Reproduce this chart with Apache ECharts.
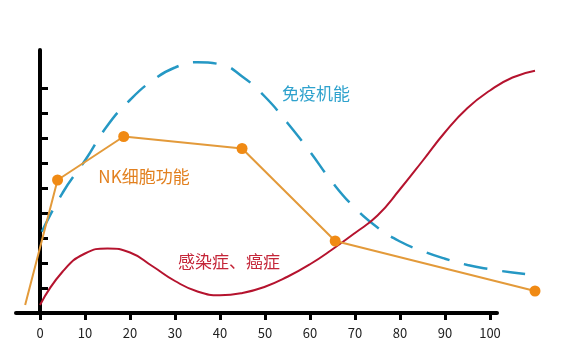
<!DOCTYPE html>
<html>
<head>
<meta charset="utf-8">
<script src="https://cdn.jsdelivr.net/npm/echarts@6/dist/echarts.min.js"></script>
<style>
html,body{margin:0;padding:0;background:#fff;}
#chart{width:581px;height:361px;}
</style>
</head>
<body>
<div id="chart"></div>
<script>
// Tick labels on the x axis
var xTicks = [0, 10, 20, 30, 40, 50, 60, 70, 80, 90, 100];
// Unlabelled y-axis ticks
var yTicks = [1, 2, 3, 4, 5, 6, 7, 8, 9];

// NK细胞功能 (orange polyline)
var nkX = [-3.3, 3.9, 18.6, 44.9, 65.6, 110];
var nkY = [0.32, 5.32, 7.06, 6.58, 2.88, 0.88];
var nkMarked = [false, true, true, true, true, true];

// 免疫机能 (cyan dashed curve)
var immX = [0.4, 5, 10, 15, 20, 25, 30, 35, 40, 45, 50, 55, 60, 65, 70, 75, 80, 85, 90, 95, 100, 105, 107.8];
var immY = [3.25, 4.8, 6.1, 7.5, 8.52, 9.3, 9.82, 10.03, 9.95, 9.45, 8.65, 7.6, 6.45, 5.22, 4.2, 3.42, 2.86, 2.48, 2.17, 1.92, 1.75, 1.62, 1.56];

// 感染症、癌症 (red curve)
var infX = [0, 5, 10, 15, 20, 25, 30, 35, 40, 45, 50, 55, 60, 65, 70, 75, 80, 85, 90, 95, 100, 105, 110];
var infY = [0.32, 1.65, 2.38, 2.58, 2.42, 1.87, 1.28, 0.86, 0.71, 0.8, 1.05, 1.45, 1.95, 2.55, 3.2, 3.9, 4.95, 6.08, 7.23, 8.2, 8.9, 9.42, 9.69];

function pairs(xs, ys) { return xs.map(function (x, i) { return [x, ys[i]]; }); }

var chart = echarts.init(document.getElementById('chart'), null, {renderer: 'canvas'});
var font = '"Noto Sans CJK SC", "Noto Sans", sans-serif';

var nkData = nkX.map(function (x, i) {
  return {value: [x, nkY[i]], symbolSize: nkMarked[i] ? 11 : 0};
});

chart.setOption({
  animation: false,
  backgroundColor: '#ffffff',
  grid: [
    {left: 16, right: 84, top: 50, bottom: 48},
    {left: 16, right: 37, top: 50, bottom: 48}
  ],
  xAxis: [
    {
      gridIndex: 0, type: 'value', min: -5.3333, max: 101.5556,
      splitLine: {show: false},
      axisLine: {show: true, lineStyle: {color: '#000', width: 4}},
      axisTick: {show: true, inside: false, length: 7, lineStyle: {color: '#000', width: 3}, customValues: xTicks},
      axisLabel: {show: true, customValues: xTicks, color: '#222', fontSize: 13, margin: 14, fontFamily: font}
    },
    {
      gridIndex: 1, type: 'value', min: -5.3333, max: 112,
      show: false, splitLine: {show: false}
    }
  ],
  yAxis: [
    {
      gridIndex: 0, type: 'value', min: 0, max: 10.52,
      splitLine: {show: false},
      axisLine: {show: true, lineStyle: {color: '#000', width: 4}},
      axisTick: {show: true, inside: true, length: 8, lineStyle: {color: '#000', width: 3}, customValues: yTicks},
      axisLabel: {show: false}
    },
    {
      gridIndex: 1, type: 'value', min: 0, max: 10.52,
      show: false, splitLine: {show: false}
    }
  ],
  series: [
    {
      name: '感染症、癌症', type: 'line', xAxisIndex: 1, yAxisIndex: 1,
      data: pairs(infX, infY), smooth: true, showSymbol: false, symbol: 'none',
      lineStyle: {color: '#B5132E', width: 2}, z: 3
    },
    {
      name: '免疫机能', type: 'line', xAxisIndex: 1, yAxisIndex: 1,
      data: pairs(immX, immY), smooth: true, showSymbol: false, symbol: 'none',
      lineStyle: {color: '#2598C4', width: 2.5, type: [24, 15]}, z: 2
    },
    {
      name: 'NK细胞功能', type: 'line', xAxisIndex: 1, yAxisIndex: 1,
      data: nkData, smooth: false, symbol: 'circle', showSymbol: true,
      itemStyle: {color: '#F08A14'},
      lineStyle: {color: '#E39A3A', width: 2}, z: 4
    }
  ],
  graphic: [
    {type: 'text', x: 316, y: 94, style: {text: '免疫机能', fill: '#2FA2CD', fontSize: 17, fontFamily: font, align: 'center', verticalAlign: 'middle'}},
    {type: 'text', x: 144, y: 177, style: {text: 'NK细胞功能', fill: '#E2801F', fontSize: 17, fontFamily: font, align: 'center', verticalAlign: 'middle'}},
    {type: 'text', x: 229, y: 262, style: {text: '感染症、癌症', fill: '#C42538', fontSize: 17, fontFamily: font, align: 'center', verticalAlign: 'middle'}}
  ]
});
</script>
</body>
</html>
